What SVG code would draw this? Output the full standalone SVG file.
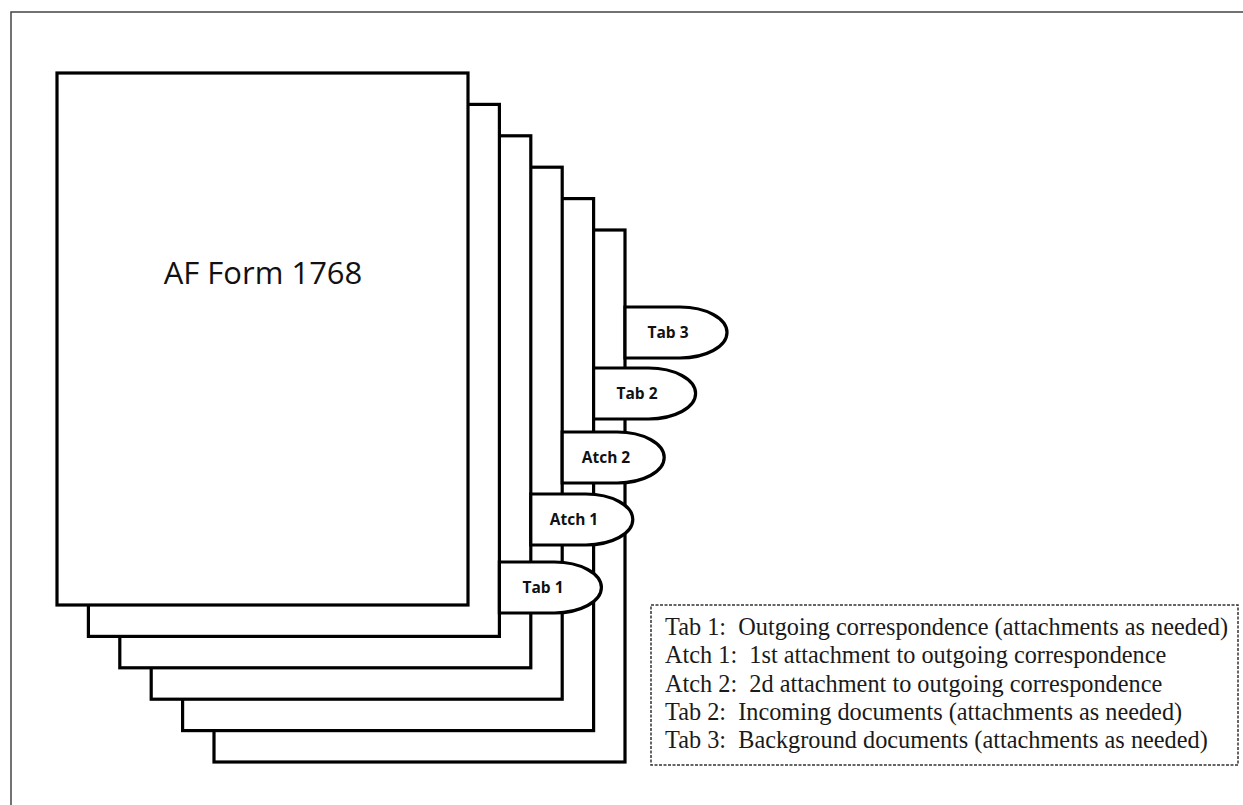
<svg xmlns="http://www.w3.org/2000/svg" width="1243" height="805" viewBox="0 0 1243 805">
<style>
.page{fill:#fff;stroke:#000;stroke-width:3.2}
.tab{fill:#fff;stroke:#000;stroke-width:3.2}
.tl{font-family:"Open Sans","Liberation Sans",sans-serif;font-weight:bold;font-size:15.5px;fill:#111;text-anchor:middle}
.title{font-family:"Open Sans","Liberation Sans",sans-serif;font-size:31px;fill:#111;text-anchor:middle}
.lg{font-family:"Liberation Serif","Times New Roman",serif;font-size:24.3px;fill:#1a1a1a;white-space:pre}
</style>
<rect width="1243" height="805" fill="#fff"/>
<rect x="11" y="12" width="1250" height="810" fill="none" stroke="#444" stroke-width="1.5"/>
<g id="page6"><rect class="page" x="214" y="230" width="411" height="532"/></g>
<g id="tab3"><path class="tab" d="M625,307 H680 A47 25.5 0 0 1 680,358 H625 Z"/><text class="tl" x="668" y="338">Tab 3</text></g>
<g id="page5"><rect class="page" x="182.6" y="198.6" width="411" height="532"/></g>
<g id="tab2"><path class="tab" d="M593.6,368 H648.6 A47 25.5 0 0 1 648.6,419 H593.6 Z"/><text class="tl" x="637" y="399">Tab 2</text></g>
<g id="page4"><rect class="page" x="151.2" y="167.2" width="411" height="532"/></g>
<g id="atch2"><path class="tab" d="M562.2,432 H617.2 A47 25.5 0 0 1 617.2,483 H562.2 Z"/><text class="tl" x="606" y="463">Atch 2</text></g>
<g id="page3"><rect class="page" x="119.8" y="135.8" width="411" height="532"/></g>
<g id="atch1"><path class="tab" d="M530.8,494 H585.8 A47 25.5 0 0 1 585.8,545 H530.8 Z"/><text class="tl" x="574" y="525">Atch 1</text></g>
<g id="page2"><rect class="page" x="88.4" y="104.4" width="411" height="532"/></g>
<g id="tab1"><path class="tab" d="M499.4,562 H554.4 A47 25.5 0 0 1 554.4,613 H499.4 Z"/><text class="tl" x="543" y="593">Tab 1</text></g>
<g id="page1"><rect class="page" x="57" y="73" width="411" height="532"/><text class="title" x="263" y="284">AF Form 1768</text></g>
<g id="legend">
<rect x="651" y="605" width="587" height="160" fill="#fff" stroke="#333" stroke-width="1.5" stroke-dasharray="3,1.5"/>
<text class="lg" x="665" y="635">Tab 1:  Outgoing correspondence (attachments as needed)</text>
<text class="lg" x="665" y="663">Atch 1:  1st attachment to outgoing correspondence</text>
<text class="lg" x="665" y="691.5">Atch 2:  2d attachment to outgoing correspondence</text>
<text class="lg" x="665" y="720">Tab 2:  Incoming documents (attachments as needed)</text>
<text class="lg" x="665" y="748">Tab 3:  Background documents (attachments as needed)</text>
</g>
<g id="connectors"></g>
</svg>
